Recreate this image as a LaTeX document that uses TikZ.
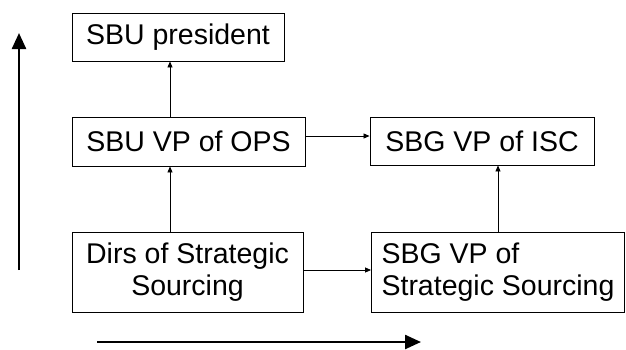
\documentclass[tikz,border=0pt]{standalone}
\usepackage{fontspec}
\setmainfont{Liberation Sans}
\usetikzlibrary{arrows.meta}
\begin{document}
\begin{tikzpicture}[x=1pt,y=-1pt,
  box/.style={draw=black, line width=0.9pt, inner sep=0pt,
    font=\fontsize{28.5}{32}\selectfont, anchor=center},
  conn/.style={line width=0.8pt, -{Triangle[length=6pt,width=5pt]}},
  bigarrow/.style={line width=2.4pt, -{Triangle[length=16pt,width=14pt]}}]
\useasboundingbox (0,0) rectangle (626,349);

% boxes of the reporting chain
\node[box, minimum width=212pt, minimum height=48pt] (pres) at (178,37) {SBU president};
\node[box, minimum width=233pt, minimum height=49pt] (ops) at (188.5,141.5) {SBU VP of OPS};
\node[box, minimum width=224pt, minimum height=48pt] (isc) at (482,141) {SBG VP of ISC};
\node[box, minimum width=231pt, minimum height=80pt, align=center] (dirs) at (187.5,272)
  {Dirs of Strategic\\Sourcing};
\node[box, minimum width=253pt, minimum height=80pt, align=left] (sbgss) at (498,272)
  {SBG VP of\\Strategic Sourcing};

% guide coordinates for the connectors
\coordinate (vx) at (170,0);
\coordinate (hy1) at (0,136);
\coordinate (hy2) at (0,270);

\draw[conn] (ops.north -| vx) -- (pres.south -| vx);
\draw[conn] (dirs.north -| vx) -- (ops.south -| vx);
\draw[conn] (ops.east |- hy1) -- (isc.west |- hy1);
\draw[conn] (dirs.east |- hy2) -- (sbgss.west |- hy2);
\draw[conn] (sbgss.north) -- (isc.south -| sbgss.north);

% axis arrows
\coordinate (up0) at (19,270);
\coordinate (up1) at (19,33);
\coordinate (rt0) at (97,342);
\coordinate (rt1) at (421,342);
\draw[bigarrow] (up0) -- (up1);
\draw[bigarrow] (rt0) -- (rt1);
\end{tikzpicture}
\end{document}
